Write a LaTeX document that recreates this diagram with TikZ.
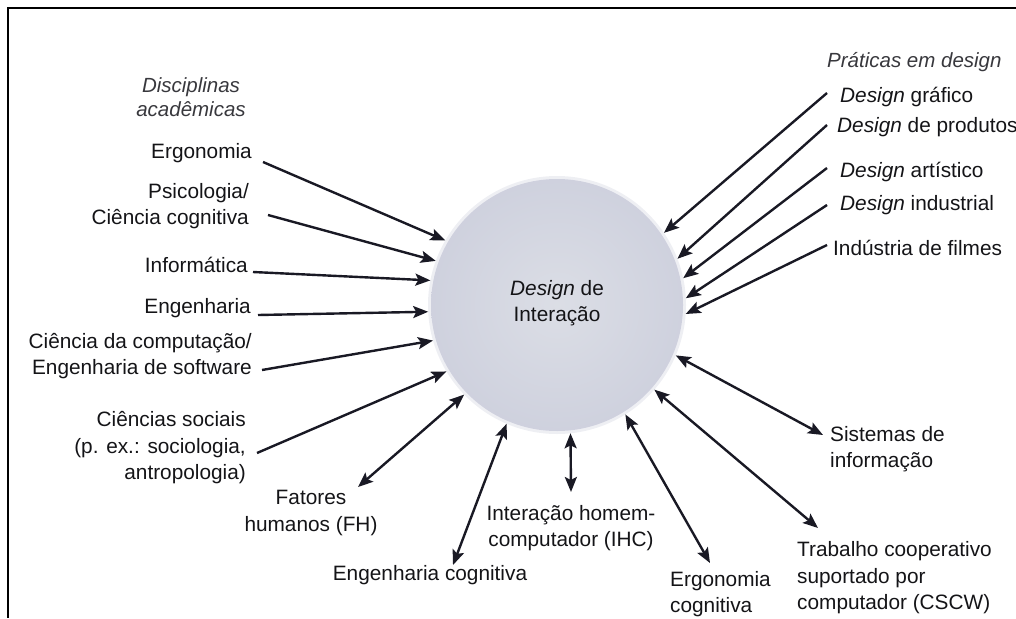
\documentclass[tikz,border=0pt]{standalone}
\usepackage{fontspec}
\setmainfont{Liberation Sans}
\usetikzlibrary{arrows.meta,calc}
\definecolor{ink}{rgb}{0.10,0.10,0.14}
\definecolor{txt}{rgb}{0.08,0.08,0.09}
\definecolor{head}{rgb}{0.22,0.22,0.24}
\definecolor{blob}{rgb}{0.81,0.82,0.87}
\definecolor{blobin}{rgb}{0.86,0.87,0.90}
\tikzset{
  lbl/.style={inner sep=0pt, text=txt, font=\fontsize{20.8}{26.5}\selectfont},
  hdg/.style={inner sep=0pt, text=head, font=\fontsize{20.5}{24}\selectfont\itshape},
  tip/.style={},
  arr/.style={draw=ink, line width=2.4pt, -{Stealth[length=15pt,width=12pt,inset=3pt]}},
  darr/.style={draw=ink, line width=2.4pt, {Stealth[length=15pt,width=12pt,inset=3pt]}-{Stealth[length=15pt,width=12pt,inset=3pt]}},
  frame/.style={draw=black, line width=2.7pt}
}
\begin{document}
\begin{tikzpicture}[x=1pt,y=-1pt]
\useasboundingbox (0,0) rectangle (1016,618);
% frame
\coordinate (ftr) at (1016,8);
\coordinate (ftl) at (8,8);
\coordinate (fbl) at (8,618);
\draw[frame] (ftr) -- (ftl) -- (fbl);
% central circle
\node[circle, minimum size=258pt, fill=blob, opacity=0.35] (chalo) at (557,305) {};
\node[circle, minimum size=252pt, inner color=blobin, outer color=blob, outer sep=3pt] (c) at (557,305) {};
\node[lbl, align=center] (ctext) at (557,303) {\textit{Design} de\\Interação};
% headings
\node[hdg, align=center] (hleft) at (191,97) {Disciplinas\\acadêmicas};
\node[hdg, anchor=west] (hright) at (827,62) {Práticas em design};
% left column
\node[lbl, anchor=east] (ergo) at (252,153) {Ergonomia};
\node[lbl, anchor=east, align=right] (psi) at (249,206) {Psicologia/\\Ciência cognitiva};
\node[lbl, anchor=east] (info) at (248,265) {Informática};
\node[lbl, anchor=east] (eng) at (251,308) {Engenharia};
\node[lbl, anchor=east, align=right] (cc) at (252,356) {Ciência da computação/\\Engenharia de software};
\node[lbl, anchor=east, align=right] (cs) at (246,448) {Ciências sociais\\(p. ex.: sociologia,\\antropologia)};
% bottom
\node[lbl, align=center] (fh) at (311,513) {Fatores\\humanos (FH)};
\node[lbl] (ec) at (430,575) {Engenharia cognitiva};
\node[lbl, align=center] (ihc) at (571,528) {Interação homem-\\computador (IHC)};
\node[lbl, anchor=west, align=left] (ergc) at (670,594) {Ergonomia\\cognitiva};
\node[lbl, anchor=west, align=left] (cscw) at (797,578) {Trabalho cooperativo\\suportado por\\computador (CSCW)};
\node[lbl, anchor=west, align=left] (si) at (830,449) {Sistemas de\\informação};
% right column
\node[lbl, anchor=west] (dg) at (840,97) {\textit{Design} gráfico};
\node[lbl, anchor=west] (dp) at (837,127) {\textit{Design} de produtos};
\node[lbl, anchor=west] (da) at (840,172) {\textit{Design} artístico};
\node[lbl, anchor=west] (di) at (840,205) {\textit{Design} industrial};
\node[lbl, anchor=west] (fi) at (833,248) {Indústria de filmes};
% left arrows
\draw[arr] ($(ergo.east)+(11,9)$) -- (c.150.3);
\draw[arr] ($(psi.east)+(19,9)$) -- (c.160.6);
\draw[arr] ($(info.east)+(5,7)$) -- (c.169.7);
\draw[arr] ($(eng.east)+(7,7)$) -- (c.183.2);
\draw[arr] ($(cc.east)+(10,14)$) -- (c.196.2);
\draw[arr] ($(cs.east)+(11,5)$) -- (c.211.3);
% bottom double arrows
\draw[darr] ($(fh.center)+(47,-26)$) -- (c.224.7);
\draw[darr] ($(ec.center)+(23,-10)$) -- (c.247.3);
\draw[darr] ($(ihc.center)+(0,-36)$) -- (c.276.3);
\draw[darr] ($(ergc.west)+(40,-31)$) -- (c.302.2);
\draw[darr] ($(cscw.west)+(21,-50)$) -- (c.319.8);
\draw[darr] ($(si.west)+(-7,-14)$) -- (c.337);
% right arrows
\draw[arr] ($(dg.west)+(-13,-4)$) -- (c.34.3);
\draw[arr] ($(dp.west)+(-10,-2)$) -- (c.21.6);
\draw[arr] ($(da.west)+(-13,-4)$) -- (c.12.1);
\draw[arr] ($(di.west)+(-13,0)$) -- (c.3.5);
\draw[arr] ($(fi.west)+(-6,-3)$) -- (c.356);
\end{tikzpicture}
\end{document}
